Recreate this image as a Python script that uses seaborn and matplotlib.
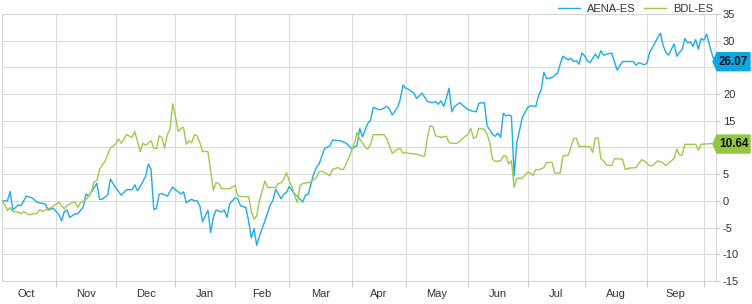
import numpy as np
import pandas as pd
import matplotlib
matplotlib.use("Agg")
import matplotlib.pyplot as plt
import seaborn as sns
from matplotlib.patches import Polygon
from matplotlib.ticker import FixedLocator, NullFormatter, FixedFormatter

# ---------------- data ----------------
start_date = "2022-10-04"
series_names = ["AENA-ES", "BDL-ES"]
series_colors = ["#1cadea", "#9ccb4c"]
box_colors = ["#0ea7e6", "#93c83e"]

aena_dates = [
    "2022-10-04", "2022-10-06", "2022-10-07", "2022-10-10", "2022-10-12", "2022-10-13", "2022-10-17",
    "2022-10-19", "2022-10-21", "2022-10-26", "2022-10-27", "2022-10-31",
    "2022-11-02", "2022-11-03", "2022-11-04", "2022-11-07", "2022-11-08", "2022-11-10", "2022-11-11",
    "2022-11-15", "2022-11-16", "2022-11-17", "2022-11-22", "2022-11-23", "2022-11-24", "2022-11-28",
    "2022-11-29",
    "2022-12-01", "2022-12-05", "2022-12-07", "2022-12-09", "2022-12-12", "2022-12-13", "2022-12-14",
    "2022-12-16", "2022-12-19", "2022-12-20", "2022-12-21", "2022-12-22", "2022-12-23", "2022-12-26",
    "2022-12-28", "2022-12-30",
    "2023-01-02", "2023-01-04", "2023-01-05", "2023-01-06", "2023-01-10", "2023-01-11", "2023-01-12",
    "2023-01-13", "2023-01-16", "2023-01-18", "2023-01-19", "2023-01-20", "2023-01-23", "2023-01-25",
    "2023-01-26", "2023-01-27", "2023-01-30",
    "2023-02-01", "2023-02-02", "2023-02-03", "2023-02-07", "2023-02-08", "2023-02-09", "2023-02-10",
    "2023-02-13", "2023-02-14", "2023-02-16", "2023-02-20", "2023-02-21", "2023-02-22", "2023-02-24",
    "2023-02-27", "2023-02-28",
    "2023-03-01", "2023-03-03", "2023-03-06", "2023-03-08", "2023-03-09", "2023-03-10", "2023-03-14",
    "2023-03-15", "2023-03-16", "2023-03-20", "2023-03-22", "2023-03-23", "2023-03-28", "2023-03-30",
    "2023-04-03", "2023-04-05", "2023-04-06", "2023-04-07", "2023-04-11", "2023-04-12", "2023-04-13",
    "2023-04-17", "2023-04-18", "2023-04-20", "2023-04-21", "2023-04-24", "2023-04-26", "2023-04-27",
    "2023-04-28",
    "2023-05-01", "2023-05-02", "2023-05-04", "2023-05-05", "2023-05-09", "2023-05-11", "2023-05-15",
    "2023-05-16", "2023-05-17", "2023-05-18", "2023-05-19", "2023-05-22", "2023-05-23", "2023-05-24",
    "2023-05-25", "2023-05-29", "2023-05-30",
    "2023-06-01", "2023-06-05", "2023-06-06", "2023-06-07", "2023-06-09", "2023-06-12", "2023-06-14",
    "2023-06-15", "2023-06-16", "2023-06-19", "2023-06-20", "2023-06-21", "2023-06-22", "2023-06-23",
    "2023-06-26", "2023-06-27", "2023-06-29",
    "2023-07-03", "2023-07-04", "2023-07-06", "2023-07-07", "2023-07-10", "2023-07-11", "2023-07-12",
    "2023-07-14", "2023-07-18", "2023-07-19", "2023-07-20", "2023-07-24", "2023-07-25", "2023-07-26",
    "2023-07-27", "2023-07-28", "2023-07-31",
    "2023-08-01", "2023-08-02", "2023-08-03", "2023-08-04", "2023-08-07", "2023-08-08", "2023-08-09",
    "2023-08-10", "2023-08-15", "2023-08-16", "2023-08-17", "2023-08-21", "2023-08-23", "2023-08-25",
    "2023-08-28", "2023-08-29", "2023-08-31",
    "2023-09-01", "2023-09-04", "2023-09-06", "2023-09-07", "2023-09-08", "2023-09-11", "2023-09-12",
    "2023-09-13", "2023-09-15", "2023-09-18", "2023-09-19", "2023-09-20", "2023-09-21", "2023-09-22",
    "2023-09-25", "2023-09-26", "2023-09-27", "2023-09-28", "2023-09-29",
    "2023-10-02", "2023-10-03", "2023-10-04", "2023-10-05", "2023-10-06",
]
aena_values = [
    0.0, 0.0, 1.75, -1.7, -0.75, -0.9, 0.9,
    0.6, -0.25, -0.6, -1.7, -1.4,
    -2.6, -3.75, -2.0, -1.7, -3.1, -2.4, -2.4,
    -1.1, 1.3, 0.9, 3.3, 0.3, 0.3, 1.1,
    4.1,
    2.4, 1.1, 2.1, 2.1, 3.0, 1.9, 2.7,
    4.6, 6.9, 5.9, -1.6, -1.4, 1.25, 1.4,
    0.9, 2.6,
    2.1, 1.3, 1.7, -0.3, 0.3, 0.0, 0.0,
    -0.9, -3.9, -1.75, -5.9, -3.1, -1.7, -2.1,
    -1.7, -3.1, -0.6,
    0.6, 0.4, -0.9, -1.25, -3.75, -6.9, -5.2,
    -8.3, -6.6, -3.75, -0.75, 0.1, 2.2, 0.4,
    1.25, 1.6,
    2.7, 1.25, 0.9, -0.2, 1.1, 1.25, 5.0,
    6.25, 6.9, 9.8, 10.3, 11.4, 11.25, 10.8,
    9.8, 10.3, 13.6, 12.0, 14.5, 15.1, 17.5,
    17.1, 17.1, 17.7, 17.2, 16.1, 17.5, 19.1,
    21.7,
    21.1, 20.9, 20.2, 19.2, 20.2, 18.6, 18.4,
    18.6, 18.1, 18.75, 17.7, 19.3, 21.1, 16.7,
    17.7, 18.4, 17.9,
    17.1, 16.75, 16.7, 18.3, 18.4, 14.1, 12.5,
    12.1, 12.7, 11.9, 16.4, 15.9, 16.1, 15.9,
    4.7, 10.9, 15.6,
    17.5, 17.8, 17.7, 19.7, 20.8, 24.1, 22.9,
    23.1, 23.9, 25.6, 27.1, 26.4, 26.7, 26.1,
    26.25, 25.6, 27.7,
    27.2, 26.25, 25.9, 26.7, 27.5, 26.7, 28.1,
    27.3, 27.7, 26.1, 24.5, 26.1, 26.1, 26.1,
    25.4, 25.9, 25.5,
    25.75, 27.8, 29.6, 30.6, 31.4, 29.1, 27.8,
    27.3, 29.4, 27.1, 27.8, 28.3, 30.4, 29.6,
    29.8, 28.9, 30.2, 28.4, 30.4,
    30.1, 31.25, 29.4, 27.5, 26.07,
]

bdl_dates = [
    "2022-10-04", "2022-10-05", "2022-10-06", "2022-10-07", "2022-10-10", "2022-10-12", "2022-10-13",
    "2022-10-14", "2022-10-17", "2022-10-18", "2022-10-20", "2022-10-21", "2022-10-24", "2022-10-25",
    "2022-10-27", "2022-10-28", "2022-10-31",
    "2022-11-01", "2022-11-02", "2022-11-03", "2022-11-04", "2022-11-07", "2022-11-09", "2022-11-10",
    "2022-11-11", "2022-11-14", "2022-11-16", "2022-11-18", "2022-11-21", "2022-11-22", "2022-11-23",
    "2022-11-24", "2022-11-25", "2022-11-29",
    "2022-12-01", "2022-12-02", "2022-12-05", "2022-12-06", "2022-12-07", "2022-12-09", "2022-12-12",
    "2022-12-14", "2022-12-15", "2022-12-16", "2022-12-20", "2022-12-21", "2022-12-22", "2022-12-23",
    "2022-12-26", "2022-12-27", "2022-12-28", "2022-12-29", "2022-12-30",
    "2023-01-02", "2023-01-03", "2023-01-04", "2023-01-05", "2023-01-06", "2023-01-09", "2023-01-10",
    "2023-01-11", "2023-01-12", "2023-01-13", "2023-01-16", "2023-01-18", "2023-01-19", "2023-01-20",
    "2023-01-23", "2023-01-24", "2023-01-25", "2023-01-30",
    "2023-02-01", "2023-02-02", "2023-02-06", "2023-02-08", "2023-02-09", "2023-02-10", "2023-02-13",
    "2023-02-14", "2023-02-16", "2023-02-17", "2023-02-22", "2023-02-23", "2023-02-24", "2023-02-27",
    "2023-02-28",
    "2023-03-01", "2023-03-02", "2023-03-03", "2023-03-06", "2023-03-07", "2023-03-08", "2023-03-10",
    "2023-03-13", "2023-03-15", "2023-03-16", "2023-03-17", "2023-03-21", "2023-03-22", "2023-03-23",
    "2023-03-27", "2023-03-28", "2023-03-29", "2023-03-30", "2023-03-31",
    "2023-04-04", "2023-04-05", "2023-04-06", "2023-04-07", "2023-04-10", "2023-04-11", "2023-04-12",
    "2023-04-13", "2023-04-17", "2023-04-19", "2023-04-20", "2023-04-21", "2023-04-24", "2023-04-26",
    "2023-04-27", "2023-04-28",
    "2023-05-01", "2023-05-02", "2023-05-05", "2023-05-09", "2023-05-10", "2023-05-11", "2023-05-12",
    "2023-05-15", "2023-05-16", "2023-05-18", "2023-05-22", "2023-05-23", "2023-05-24", "2023-05-26",
    "2023-05-31",
    "2023-06-01", "2023-06-02", "2023-06-05", "2023-06-06", "2023-06-07", "2023-06-09", "2023-06-12",
    "2023-06-13", "2023-06-14", "2023-06-15", "2023-06-19", "2023-06-20", "2023-06-21", "2023-06-22",
    "2023-06-23", "2023-06-26", "2023-06-27", "2023-06-29",
    "2023-07-03", "2023-07-04", "2023-07-05", "2023-07-06", "2023-07-07", "2023-07-11", "2023-07-12",
    "2023-07-14", "2023-07-17", "2023-07-19", "2023-07-20", "2023-07-24", "2023-07-26", "2023-07-27",
    "2023-07-28",
    "2023-08-01", "2023-08-03", "2023-08-04", "2023-08-07", "2023-08-08", "2023-08-09", "2023-08-10",
    "2023-08-11", "2023-08-15", "2023-08-16", "2023-08-21", "2023-08-22", "2023-08-23", "2023-08-28",
    "2023-08-30", "2023-08-31",
    "2023-09-04", "2023-09-05", "2023-09-07", "2023-09-11", "2023-09-12", "2023-09-13", "2023-09-15",
    "2023-09-18", "2023-09-19", "2023-09-20", "2023-09-21", "2023-09-27", "2023-09-28", "2023-09-29",
    "2023-10-05", "2023-10-06",
]
bdl_values = [
    0.0, -0.75, -1.8, -1.25, -2.0, -2.1, -2.4,
    -2.0, -2.3, -2.6, -2.4, -2.3, -1.6, -2.0,
    -1.4, -1.4, -0.9,
    -0.6, -0.25, -0.9, -1.5, -0.9, -0.25, -0.25,
    -1.2, -0.3, 0.2, 1.75, 3.6, 3.8, 5.9,
    6.75, 7.4, 9.9,
    10.7, 11.6, 10.8, 11.6, 12.4, 11.9, 13.0,
    9.25, 10.8, 10.4, 11.3, 9.9, 9.75, 12.2,
    11.9, 9.9, 12.4, 13.4, 18.2,
    15.8, 13.0, 13.6, 13.75, 10.6, 11.25, 10.9,
    12.4, 12.2, 10.9, 9.25, 9.25, 5.6, 2.0,
    3.4, 3.3, 2.3, 2.3,
    2.9, 0.9, 0.8, 0.8, -1.9, -3.4, -2.8,
    0.0, 3.75, 2.5, 2.5, 3.3, 3.4, 4.1,
    5.3,
    3.75, 2.6, 0.9, -0.3, 2.9, 3.25, 3.4,
    3.6, 4.4, 5.4, 5.6, 5.0, 4.7, 5.9,
    6.25, 5.9, 5.9, 6.9, 8.1,
    10.6, 12.8, 11.6, 10.9, 10.1, 9.7, 10.6,
    12.4, 12.4, 12.4, 11.6, 10.3, 8.9, 9.7,
    9.8, 8.9,
    9.1, 8.9, 8.75, 8.4, 8.4, 11.9, 14.1,
    13.9, 12.2, 11.9, 12.1, 10.9, 10.8, 10.8,
    12.1,
    12.5, 13.6, 11.75, 11.9, 13.6, 13.4, 12.5,
    10.9, 7.8, 7.4, 7.5, 8.4, 8.4, 6.9,
    7.5, 2.5, 4.25, 4.25,
    5.4, 5.2, 4.7, 5.9, 5.8, 6.25, 7.2,
    7.2, 5.2, 5.2, 8.4, 8.6, 11.7, 11.7,
    10.2,
    10.2, 10.1, 9.1, 11.8, 11.8, 7.9, 7.5,
    6.7, 6.6, 7.9, 7.8, 5.9, 6.1, 6.25,
    7.7, 7.5,
    6.6, 6.6, 7.5, 7.1, 6.6, 7.1, 7.9,
    9.7, 8.6, 8.6, 10.6, 10.6, 9.5, 10.6,
    10.75, 10.64,
]

y_ticks = [-15, -10, -5, 0, 5, 10, 15, 20, 25, 30, 35]
month_labels = ["Oct", "Nov", "Dec", "Jan", "Feb", "Mar", "Apr", "May", "Jun", "Jul", "Aug", "Sep"]
month_firsts = pd.date_range("2022-10-01", "2023-10-01", freq="MS")

# ---------------- build table ----------------
df = pd.concat([
    pd.DataFrame({"date": pd.to_datetime(aena_dates), "value": aena_values, "series": series_names[0]}),
    pd.DataFrame({"date": pd.to_datetime(bdl_dates), "value": bdl_values, "series": series_names[1]}),
], ignore_index=True)
df["session"] = np.busday_count(np.datetime64(start_date), df["date"].values.astype("datetime64[D]"))
last_values = [df[df["series"] == n].sort_values("session")["value"].iloc[-1] for n in series_names]

# ---------------- style ----------------
sns.set_theme(style="white")
plt.rcParams["font.family"] = ["Liberation Sans", "DejaVu Sans"]
plt.rcParams["axes.unicode_minus"] = False

W, H = 752, 304
fig = plt.figure(figsize=(W / 100, H / 100), dpi=100)
left_px, right_px, top_px, bottom_px = 2, 716, 14, 281
ax = fig.add_axes([left_px / W, 1 - bottom_px / H, (right_px - left_px) / W, (bottom_px - top_px) / H])

sns.lineplot(data=df, x="session", y="value", hue="series", hue_order=series_names,
             palette=dict(zip(series_names, series_colors)), estimator=None,
             linewidth=1.0, ax=ax, zorder=3)

last_session = df["session"].max()
ax.set_xlim(0, last_session + 0.5)
ax.set_ylim(y_ticks[0], y_ticks[-1])

# x axis: grid lines at month starts, labels in the middle of each month
month_pos = np.busday_count(np.datetime64(start_date), month_firsts.values.astype("datetime64[D]"))
grid_pos = [p for p in month_pos[1:]]
label_pos = [(month_pos[i] + month_pos[i + 1]) / 2 for i in range(len(month_labels))]
ax.xaxis.set_major_locator(FixedLocator(grid_pos))
ax.xaxis.set_major_formatter(NullFormatter())
ax.xaxis.set_minor_locator(FixedLocator(label_pos))
ax.xaxis.set_minor_formatter(FixedFormatter(month_labels))
ax.tick_params(axis="x", which="major", bottom=True, length=4, width=0.8, color="#cccccc")
ax.tick_params(axis="x", which="minor", bottom=True, length=0, pad=6, labelsize=8, labelcolor="#333333")

# y axis on the right; labels hidden where a last-value flag sits on top of them
ax.yaxis.tick_right()
ax.set_yticks(y_ticks)
y_span = y_ticks[-1] - y_ticks[0]
ax.set_yticklabels([
    "" if any(abs(v - lv) < 0.035 * y_span * 2 for lv in last_values) else str(v)
    for v in y_ticks
])
ax.tick_params(axis="y", which="major", right=True, length=3, width=0.8, color="#cccccc",
               pad=2, labelsize=8, labelcolor="#333333")

ax.grid(True, which="major", axis="both", color="#dcdcdc", linewidth=0.8)
ax.set_axisbelow(True)
for side in ["left", "right", "top", "bottom"]:
    ax.spines[side].set_visible(True)
    ax.spines[side].set_color("#d6d6d6")
    ax.spines[side].set_linewidth(0.8)
ax.set_xlabel("")
ax.set_ylabel("")

sns.move_legend(ax, "center right", bbox_to_anchor=(713 / W, 1 - 9 / H),
                bbox_transform=fig.transFigure, ncol=2, frameon=False, title=None,
                fontsize=8, handlelength=2.0, handletextpad=0.6, columnspacing=0.8,
                borderaxespad=0, borderpad=0)
for t in ax.get_legend().get_texts():
    t.set_color("#333333")
for l in ax.get_legend().get_lines():
    l.set_linewidth(1.0)

# last-value flags on the right axis
fig.canvas.draw()
for last_val, col in zip(last_values, box_colors):
    yc = ax.transData.transform((0, last_val))[1]
    pts = [(713, yc), (717, yc + 9), (750, yc + 9), (750, yc - 9), (717, yc - 9)]
    poly = Polygon([(x / W, y / H) for x, y in pts], closed=True, transform=fig.transFigure,
                   facecolor=col, edgecolor=col, zorder=10)
    fig.add_artist(poly)
    fig.text(733.5 / W, yc / H, f"{last_val:.2f}", ha="center", va="center",
             fontsize=8.5, fontweight="bold", color="#111111", zorder=11)

fig.savefig("out.png", dpi=100)
